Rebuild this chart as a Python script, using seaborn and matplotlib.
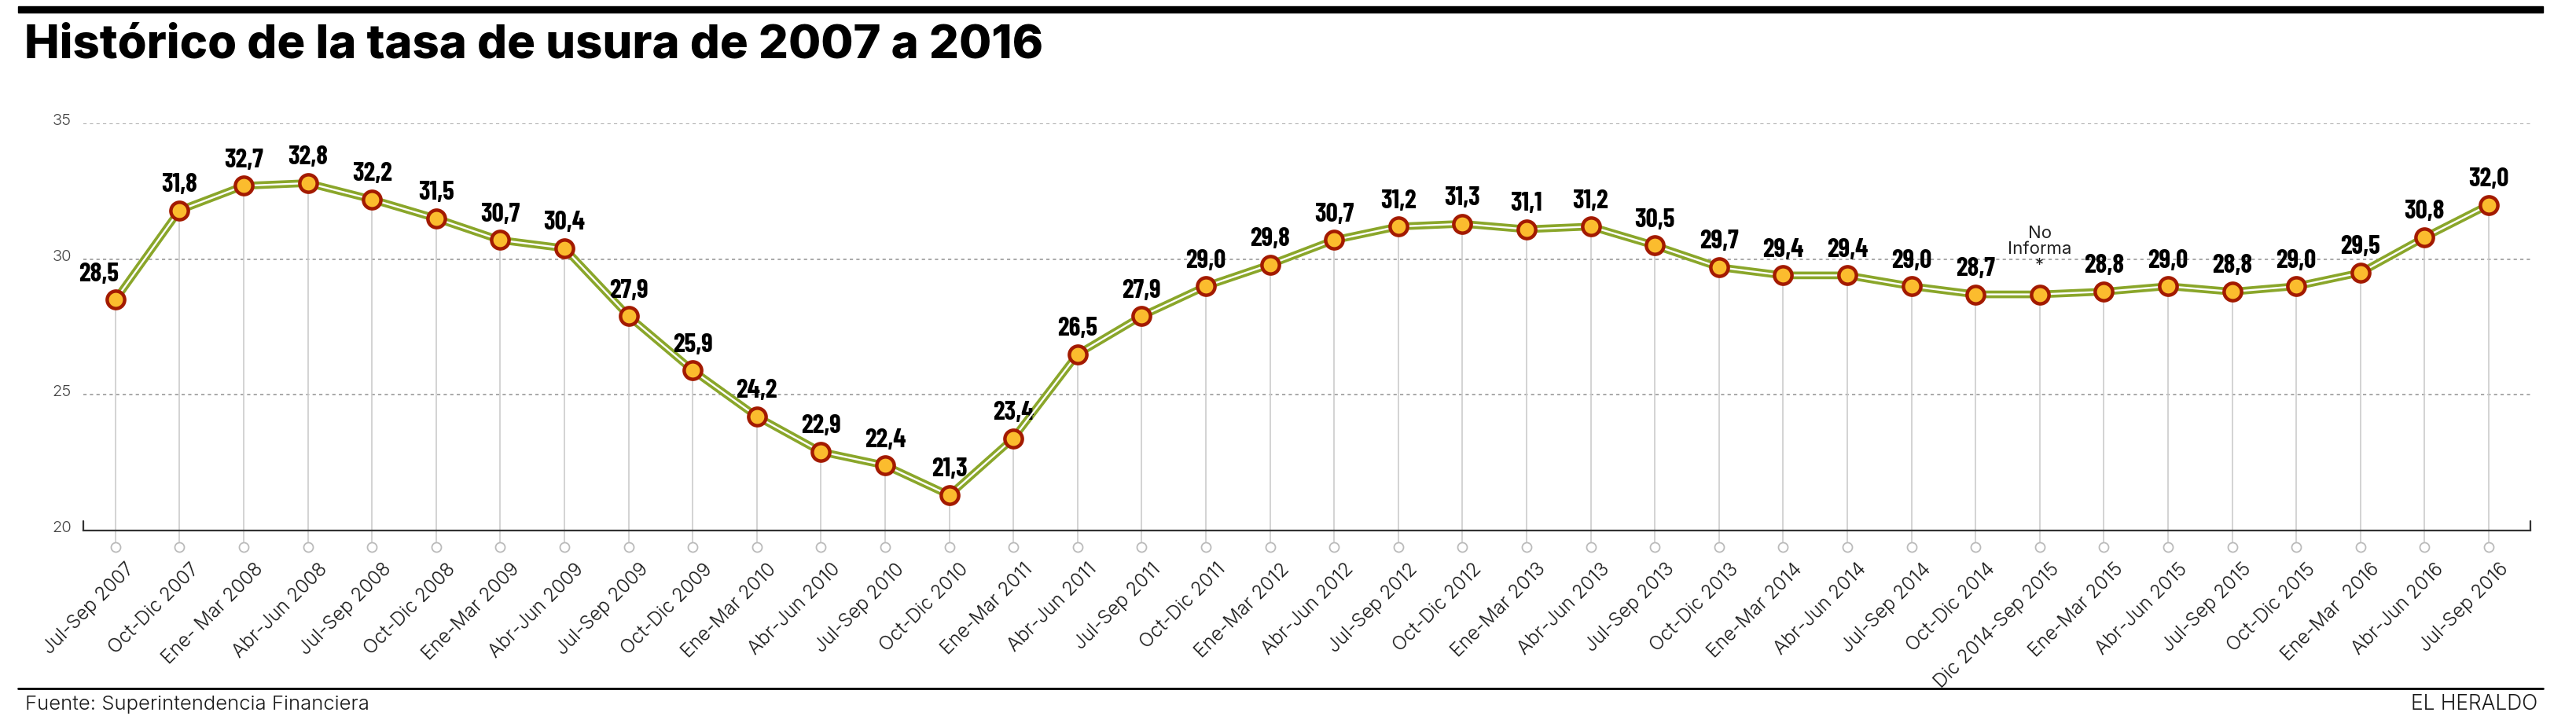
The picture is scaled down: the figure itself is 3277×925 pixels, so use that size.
import matplotlib
matplotlib.use("Agg")
import matplotlib.pyplot as plt
import matplotlib.transforms as mtransforms
from matplotlib.patches import Rectangle
from matplotlib.lines import Line2D
import seaborn as sns
import pandas as pd

periodos = ["Jul-Sep 2007", "Oct-Dic 2007", "Ene- Mar 2008", "Abr-Jun 2008",
            "Jul-Sep 2008", "Oct-Dic 2008", "Ene-Mar 2009", "Abr-Jun 2009",
            "Jul-Sep 2009", "Oct-Dic 2009", "Ene-Mar 2010", "Abr-Jun 2010",
            "Jul-Sep 2010", "Oct-Dic 2010", "Ene-Mar 2011", "Abr-Jun 2011",
            "Jul-Sep 2011", "Oct-Dic 2011", "Ene-Mar 2012", "Abr-Jun 2012",
            "Jul-Sep 2012", "Oct-Dic 2012", "Ene-Mar 2013", "Abr-Jun 2013",
            "Jul-Sep 2013", "Oct-Dic 2013", "Ene-Mar 2014", "Abr-Jun 2014",
            "Jul-Sep 2014", "Oct-Dic 2014", "Dic 2014-Sep 2015", "Ene-Mar 2015",
            "Abr-Jun 2015", "Jul-Sep 2015", "Oct-Dic 2015", "Ene-Mar  2016",
            "Abr-Jun 2016", "Jul-Sep 2016"]
tasas = [28.5, 31.8, 32.7, 32.8, 32.2, 31.5, 30.7, 30.4, 27.9, 25.9,
         24.2, 22.9, 22.4, 21.3, 23.4, 26.5, 27.9, 29.0, 29.8, 30.7,
         31.2, 31.3, 31.1, 31.2, 30.5, 29.7, 29.4, 29.4, 29.0, 28.7,
         28.7, 28.8, 29.0, 28.8, 29.0, 29.5, 30.8, 32.0]
# periodo sin dato publicado (se repite el valor anterior)
sin_dato = ["Dic 2014-Sep 2015"]
y_ticks = [20, 25, 30, 35]

df = pd.DataFrame({"periodo": periodos, "tasa": tasas})
df["pos"] = range(len(df))

VERDE = "#8aa62a"
ROJO = "#a31a00"
AMARILLO = "#fbbc2e"
GRIS = "#cccccc"

sns.set_theme(style="white")
FUENTE_LIGERA = ["Inter", "DejaVu Sans"]
FUENTE_ESTRECHA = ["Barlow Condensed", "Roboto Condensed", "DejaVu Sans"]
plt.rcParams["font.family"] = FUENTE_LIGERA

W, H = 3277, 925
fig = plt.figure(figsize=(W / 100, H / 100), dpi=100)
ax = fig.add_axes([106 / W, 1 - 675 / H, (3219 - 106) / W, 518 / H])
ax.set_xlim(-0.5, 37.65)
ax.set_ylim(20, 35)

# líneas verticales grises hasta los circulitos bajo el eje
y_circ = 20 - 21 / 34.5
ax.vlines(df["pos"], y_circ, df["tasa"], color=GRIS, lw=1.2, zorder=1,
          clip_on=False)
ax.scatter(df["pos"], [y_circ] * len(df), s=75, facecolor="white",
           edgecolor="#bbbbbb", linewidth=1.3, zorder=2, clip_on=False)

# línea doble (verde con centro blanco)
sns.lineplot(data=df, x="pos", y="tasa", color=VERDE, lw=7, ax=ax,
             zorder=3, solid_joinstyle="round")
sns.lineplot(data=df, x="pos", y="tasa", color="white", lw=1.7, ax=ax,
             zorder=4)
sns.scatterplot(data=df, x="pos", y="tasa", s=16 ** 2, color=AMARILLO,
                edgecolor=ROJO, linewidth=3.2, ax=ax, zorder=5, clip_on=False)

# etiquetas de valor
for i, (p, v) in enumerate(zip(df["periodo"], df["tasa"])):
    if p in sin_dato:
        ax.annotate("No\nInforma\n*", (i, v), xytext=(0, 19),
                    textcoords="offset points", ha="center", va="bottom",
                    fontsize=16, family=FUENTE_LIGERA, linespacing=1.05,
                    color="#222222")
        continue
    dx = -15 if i == 0 else 0
    ax.annotate(f"{v:.1f}".replace(".", ","), (i, v), xytext=(dx, 17),
                textcoords="offset points", ha="center", va="baseline",
                fontsize=24, fontweight="bold", family=FUENTE_ESTRECHA,
                color="black")

# ejes
ax.set_yticks(y_ticks)
ax.set_yticklabels([str(t) for t in y_ticks], fontsize=14.5, color="#444444",
                   fontweight=300)
ax.tick_params(axis="y", length=0, pad=11)
ax.set_xticks(df["pos"])
ax.set_xticklabels(df["periodo"], rotation=45, ha="right",
                   rotation_mode="anchor", fontsize=17.5, color="#1a1a1a",
                   fontweight=300)
ax.tick_params(axis="x", length=0, pad=27)
desp = mtransforms.ScaledTranslation(0.13, 0, fig.dpi_scale_trans)
for lab in ax.get_xticklabels():
    lab.set_transform(lab.get_transform() + desp)
desp_y = mtransforms.ScaledTranslation(0, 0.05, fig.dpi_scale_trans)
for lab in ax.get_yticklabels():
    lab.set_transform(lab.get_transform() + desp_y)

ax.set_xlabel("")
ax.set_ylabel("")
for g in [25, 30, 35]:
    ax.axhline(g, color="#999999", lw=1.2, ls=(0, (2.5, 2.5)), zorder=0)
for s in ["top", "right", "left"]:
    ax.spines[s].set_visible(False)
ax.spines["bottom"].set_color("#333333")
ax.spines["bottom"].set_linewidth(1.6)
ax.axvline(ax.get_xlim()[0], 0, 12 / 518, color="#333333", lw=1.6,
           clip_on=False)
ax.axvline(ax.get_xlim()[1], 0, 12 / 518, color="#333333", lw=1.6,
           clip_on=False)

# título, barras y pie
fig.add_artist(Rectangle((23 / W, 1 - 16 / H), (3235 - 23) / W, 8 / H,
                         color="black", transform=fig.transFigure))
fig.text(31 / W, 1 - 73 / H, "Histórico de la tasa de usura de 2007 a 2016",
         fontsize=43, fontweight=800, family=FUENTE_LIGERA,
         va="baseline", ha="left", color="black")
fig.add_artist(Line2D([23 / W, 3235 / W], [1 - 876 / H, 1 - 876 / H],
                      color="black", lw=2, transform=fig.transFigure))
fig.text(32 / W, 1 - 903 / H, "Fuente: Superintendencia Financiera",
         fontsize=18.5, fontweight=300, va="baseline", ha="left",
         color="#1a1a1a")
fig.text(3228 / W, 1 - 903 / H, "EL HERALDO", fontsize=19,
         fontweight=300, va="baseline", ha="right", color="#1a1a1a")

fig.savefig("out.png", dpi=100, facecolor="white")
